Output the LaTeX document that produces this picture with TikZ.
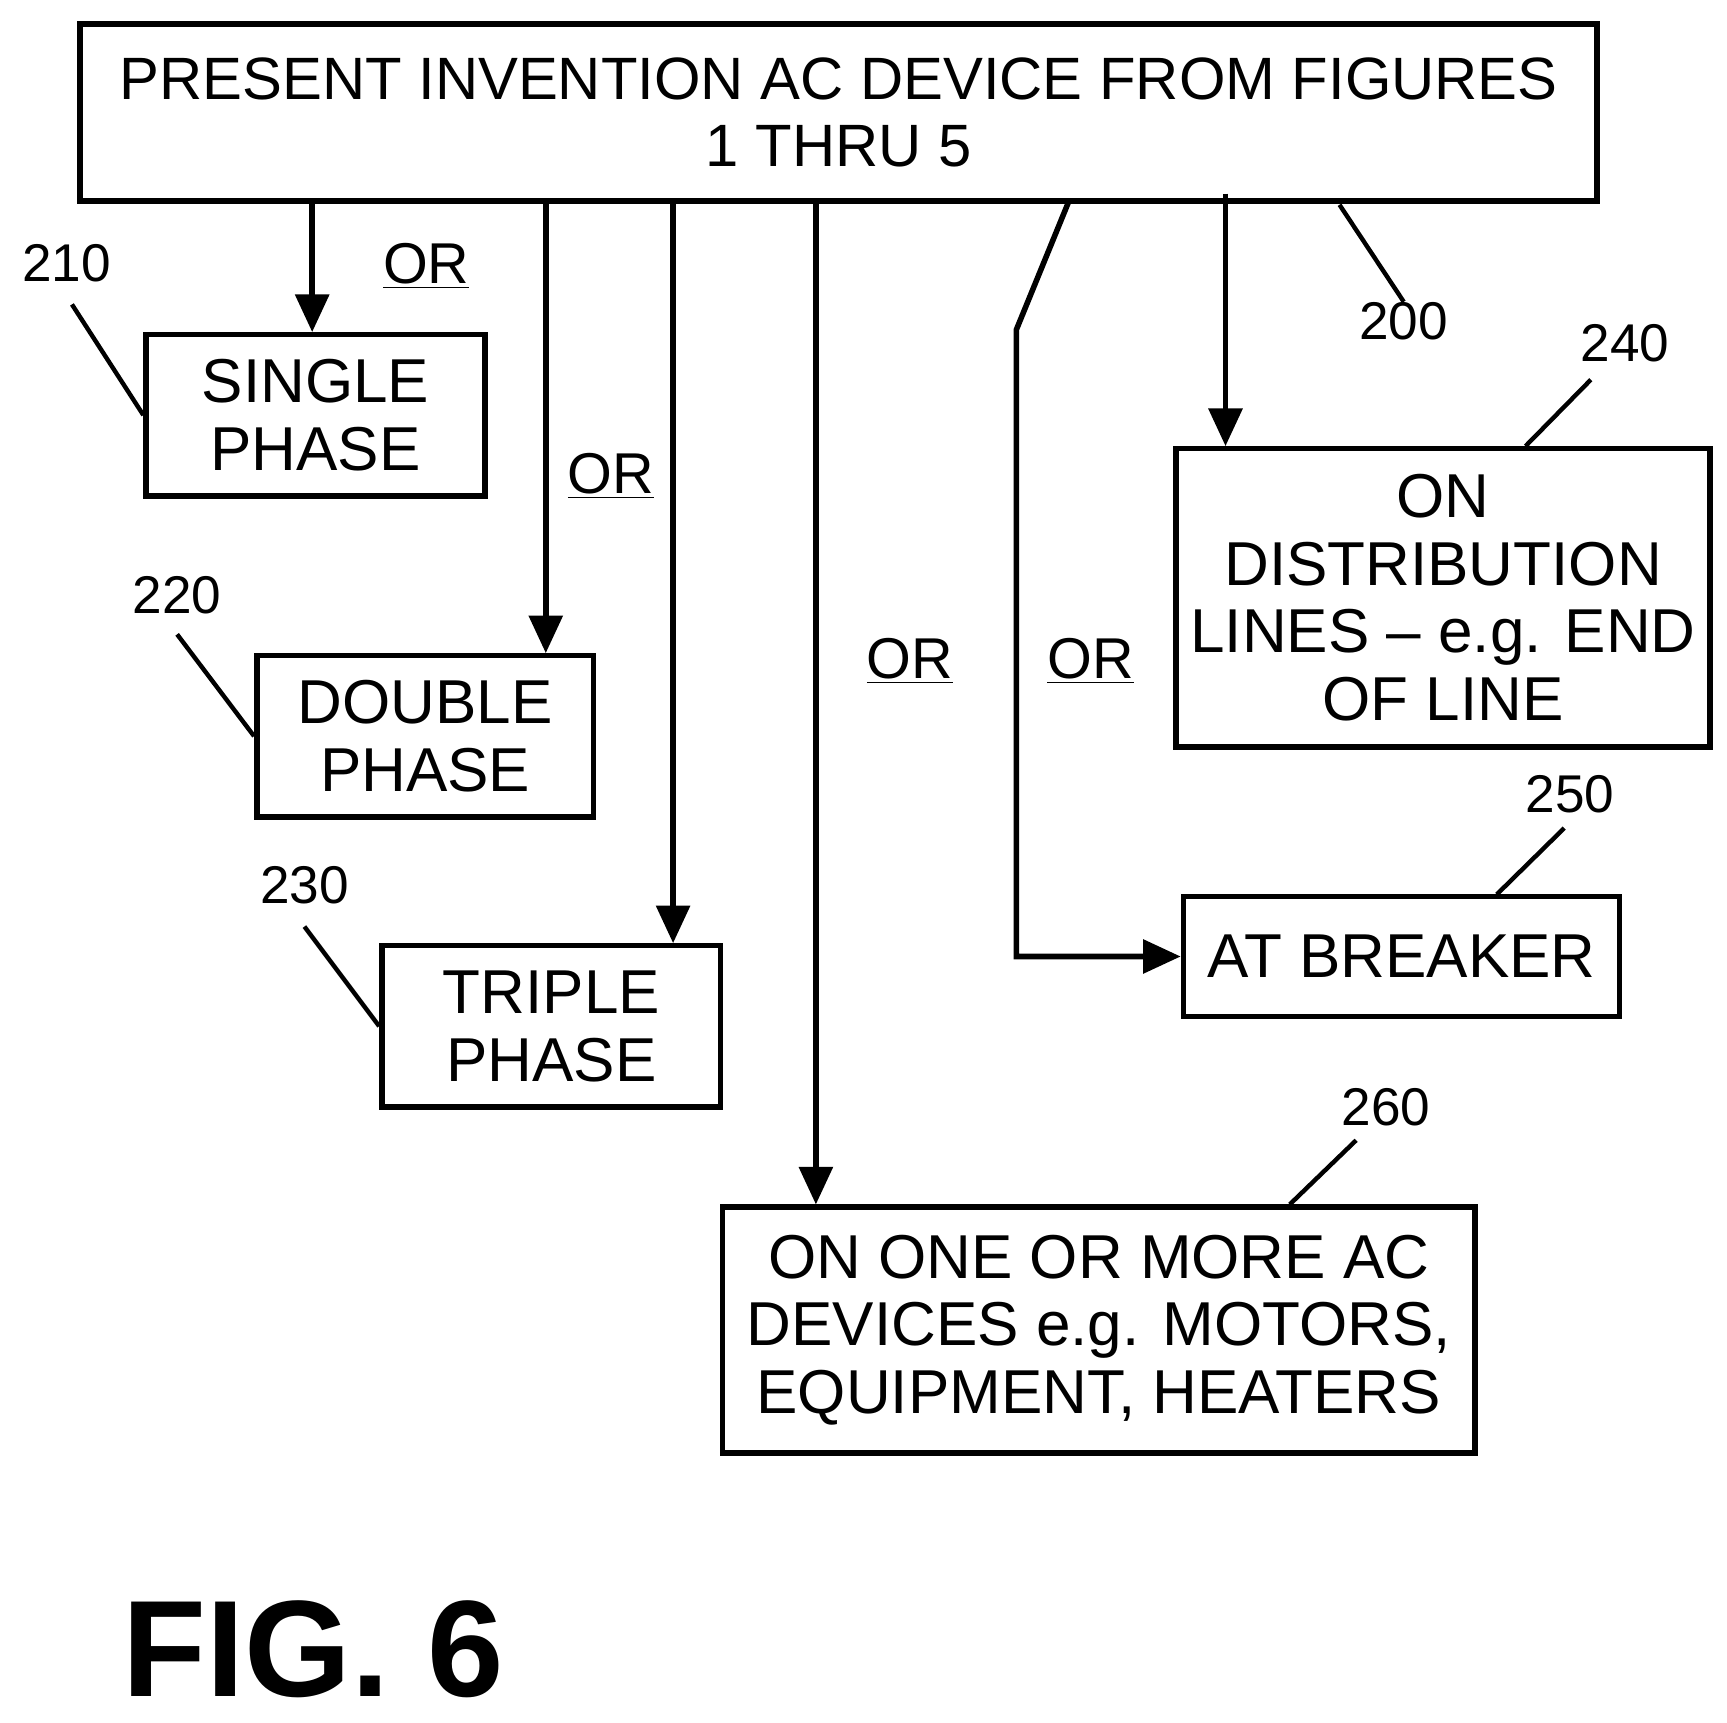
\documentclass[tikz,border=0pt]{standalone}
\usepackage{fontspec}
\setmainfont{Liberation Sans}
\usetikzlibrary{arrows.meta}
\tikzset{
  box/.style={draw, line width=2.5pt, align=center, inner sep=0pt, font=\fontsize{28}{30.5}\selectfont},
  num/.style={font=\fontsize{24}{26}\selectfont, inner sep=0pt},
  orlbl/.style={font=\fontsize{26}{28}\selectfont, inner sep=0pt},
  arr/.style={line width=2.5pt, -{Triangle[length=17pt,width=15pt]}},
  lead/.style={line width=2pt}
}
\newcommand{\orword}{\underline{OR}}
\begin{document}
\begin{tikzpicture}[x=0.5pt, y=-0.5pt]
  \useasboundingbox (0,0) rectangle (1560,1556);
  % Main box
  \node[box, minimum width=685pt, minimum height=80pt, font=\fontsize{27}{30.5}\selectfont] (dev) at (757.5,101.5) {PRESENT INVENTION AC DEVICE FROM FIGURES\\1 THRU 5};
  \node[num] (n200) at (1268,290) {200};
  \draw[lead] (1210,185) -- (n200.north);
  % Phase boxes
  \node[box, minimum width=153pt, minimum height=73pt] (single) at (285,375) {SINGLE\\PHASE};
  \node[box, minimum width=152pt, minimum height=73pt] (double) at (384,665) {DOUBLE\\PHASE};
  \node[box, minimum width=153pt, minimum height=73pt] (triple) at (498,927) {TRIPLE\\PHASE};
  % Location boxes
  \node[box, minimum width=241pt, minimum height=135pt] (distr) at (1303.5,540) {ON\\DISTRIBUTION\\LINES -- e.g. END\\OF LINE};
  \node[box, minimum width=197pt, minimum height=54pt] (brk) at (1266,864) {AT BREAKER};
  \node[box, minimum width=340pt, minimum height=111pt] (acdev) at (992.5,1201.5) {ON ONE OR MORE AC\\DEVICES e.g. MOTORS,\\EQUIPMENT, HEATERS};
  % Reference numerals
  \node[num] (n210) at (60,238) {210};
  \node[num] (n220) at (160,538) {220};
  \node[num] (n230) at (275,800) {230};
  \node[num] (n240) at (1468,310) {240};
  \node[num] (n250) at (1418,717) {250};
  \node[num] (n260) at (1252,1000) {260};
  \draw[lead] (65,275) -- (single.west);
  \draw[lead] (160,573) -- (double.west);
  \draw[lead] (275,837) -- (triple.west);
  \draw[lead] (1437,343) -- (1378,403);
  \draw[lead] (1413,748) -- (1352,808);
  \draw[lead] (1225,1030) -- (1165,1088);
  % Arrows
  \draw[arr] (282,183) -- (282,300);
  \draw[arr] (493,183) -- (493,590);
  \draw[arr] (608,183) -- (608,852);
  \draw[arr] (737,183) -- (737,1088);
  \draw[arr] (1107,175) -- (1107,403);
  \coordinate (bend1) at (918,298);
  \draw[arr] (965,183) -- (bend1) |- (brk.west);
  % OR labels
  \node[orlbl] (or1) at (385,240) {\orword};
  \node[orlbl] (or2) at (552,430) {\orword};
  \node[orlbl] (or3) at (822,597) {\orword};
  \node[orlbl] (or4) at (985,597) {\orword};
  % Figure caption
  \node[font=\bfseries\fontsize{62}{66}\selectfont, inner sep=0pt] (fig) at (283,1490) {FIG. 6};
\end{tikzpicture}
\end{document}
